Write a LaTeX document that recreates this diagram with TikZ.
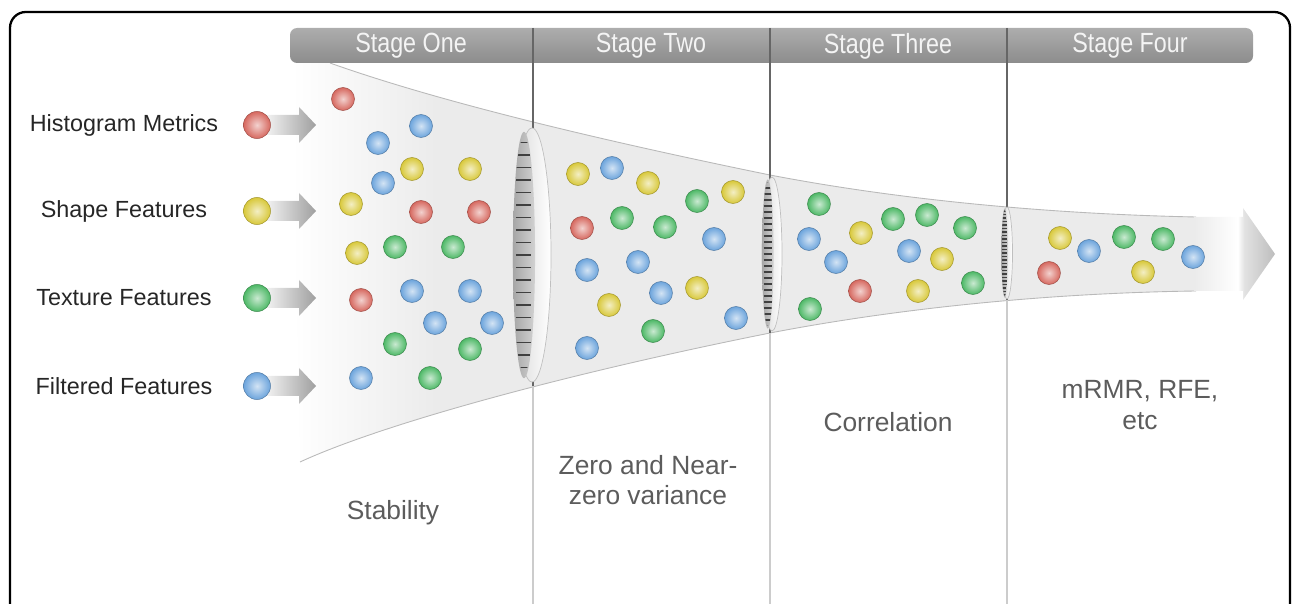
\documentclass[tikz,border=0pt]{standalone}
\usepackage{fontspec}
\setmainfont{Liberation Sans}
\newfontfamily\stagefont[FakeStretch=0.84]{Liberation Sans}
\usetikzlibrary{positioning}

\definecolor{ballred}{HTML}{D6685F}
\definecolor{ballyellow}{HTML}{D8C83A}
\definecolor{ballgreen}{HTML}{4DB866}
\definecolor{ballblue}{HTML}{6CA4DC}
\definecolor{funnelgray}{HTML}{EBEBEB}
\definecolor{tiplight}{HTML}{E2E2E2}
\definecolor{tipdark}{HTML}{BDBDBD}
\definecolor{headtop}{HTML}{ADADAD}
\definecolor{headbot}{HTML}{8C8C8C}
\definecolor{headtext}{HTML}{F4F4F4}
\definecolor{labelgray}{HTML}{5C5C5C}

\pgfdeclarehorizontalshading{funnelfade}{100bp}{color(0bp)=(white); color(25bp)=(white); color(33bp)=(funnelgray); color(100bp)=(funnelgray)}
\pgfdeclarehorizontalshading{tipfade}{100bp}{color(0bp)=(funnelgray); color(25bp)=(funnelgray); color(52bp)=(white); color(56bp)=(tiplight); color(75bp)=(tipdark); color(100bp)=(tipdark)}

\begin{document}
\begin{tikzpicture}[x=0.02cm, y=-0.02cm,
    feat/.style={circle, inner sep=0pt, minimum size=0.46cm, draw=#1!75!black, line width=0.3pt,
                 inner color=#1!30!white, outer color=#1},
    stage/.style={font=\stagefont\fontsize{15.8}{18}\selectfont, text=headtext},
    legend/.style={font=\fontsize{13.3}{16}\selectfont, text=black!85},
    note/.style={font=\fontsize{15}{17.5}\selectfont, text=labelgray, align=center}]
    \useasboundingbox (0,0) rectangle (1292,604);
    \draw[line width=1.3pt, rounded corners=9pt] (10,620) -- (10,12) -- (1290,12) -- (1290,620);

    % funnel
    \shade[shading=funnelfade] (292,63) -- (330,63) .. controls (420,95) and (560,132) .. (770,175)
        .. controls (900,200) and (1050,214) .. (1196,217) -- (1196,291)
        .. controls (1050,293) and (900,308) .. (770,333) .. controls (560,375) and (380,425) .. (300,462) -- cycle;
    \draw[gray!55, line width=0.5pt] (330,63) .. controls (420,95) and (560,132) .. (770,175)
        .. controls (900,200) and (1050,214) .. (1196,217);
    \draw[gray!55, line width=0.5pt] (300,462) .. controls (380,425) and (560,375) .. (770,333)
        .. controls (900,308) and (1050,293) .. (1196,291);
    \shade[shading=tipfade] (1194,217) -- (1243,217) -- (1243,208) -- (1275,254) -- (1243,300)
        -- (1243,291) -- (1194,291) -- cycle;

    % header
    \shade[top color=headtop, bottom color=headbot, rounded corners=4pt] (290,28) rectangle (1253,63);
    \foreach \x/\lo/\hi [count=\i] in {533/386/604, 770/333/604, 1007/300/604}
    {
        \coordinate (d\i) at (\x,28);
        \draw[gray!40, line width=0.6pt] (\x,\lo) -- (\x,\hi);
        \draw[black!60, line width=0.6pt] (d\i) -- (\x,\lo);
    }
    \node[stage] (h1) at (411,46) {Stage One};
    \node[stage] (h2) at (651,46) {Stage Two};
    \node[stage] (h3) at (888,46) {Stage Three};
    \node[stage] (h4) at (1130,46) {Stage Four};

    % lenses
    \foreach \cx/\cy/\rx/\ry/\dy in {532/255/19/127/12.5, 772/254/10/77/6, 1007/253/5.5/46/3.5}
    {
        \shade[draw=gray!50, line width=0.4pt, left color=gray!30, right color=white]
            (\cx,\cy) ellipse [x radius=\rx, y radius=\ry];
        \shade[left color=gray!70, right color=gray!35] (\cx-0.42*\rx,\cy) ellipse [x radius=0.58*\rx, y radius=0.97*\ry];
        \begin{scope}
            \clip (\cx-0.42*\rx,\cy) ellipse [x radius=0.58*\rx, y radius=0.93*\ry];
            \foreach \k in {-14,...,14}
                \draw[black!75, line width=0.7pt] (\cx-0.85*\rx,\cy+\k*\dy) -- ++(0.8*\rx,0);
        \end{scope}
    }

    % legend
    \foreach \y/\c/\t [count=\i] in {125/ballred/Histogram Metrics, 211/ballyellow/Shape Features,
                                     298/ballgreen/Texture Features, 386/ballblue/Filtered Features}
    {
        \node[legend] (l\i) at (124,\y) {\t};
        \shade[left color=gray!10, right color=gray!75] (266,\y-10) -- (299,\y-10) -- (299,\y-18)
            -- (316,\y) -- (299,\y+18) -- (299,\y+10) -- (266,\y+10) -- cycle;
        \node[feat=\c, minimum size=0.54cm] (k\i) at (257,\y) {};
    }

    % features
    \foreach \x/\y/\c [count=\i] in {
        343/99/ballred, 378/143/ballblue, 421/126/ballblue, 383/183/ballblue, 412/169/ballyellow,
        470/169/ballyellow, 351/204/ballyellow, 421/212/ballred, 479/212/ballred, 357/253/ballyellow,
        395/247/ballgreen, 453/247/ballgreen, 361/300/ballred, 412/291/ballblue, 470/291/ballblue,
        435/323/ballblue, 492/323/ballblue, 395/344/ballgreen, 470/349/ballgreen, 361/378/ballblue,
        430/378/ballgreen,
        578/174/ballyellow, 612/168/ballblue, 648/183/ballyellow, 733/192/ballyellow, 697/201/ballgreen,
        582/228/ballred, 622/218/ballgreen, 665/227/ballgreen, 714/239/ballblue, 587/270/ballblue,
        638/262/ballblue, 609/305/ballyellow, 661/293/ballblue, 697/288/ballyellow, 736/318/ballblue,
        653/331/ballgreen, 587/348/ballblue,
        819/204/ballgreen, 809/239/ballblue, 861/233/ballyellow, 836/262/ballblue, 893/219/ballgreen,
        927/215/ballgreen, 965/228/ballgreen, 909/251/ballblue, 942/259/ballyellow, 860/291/ballred,
        918/291/ballyellow, 973/283/ballgreen, 810/309/ballgreen,
        1060/238/ballyellow, 1049/273/ballred, 1089/251/ballblue, 1124/237/ballgreen,
        1163/239/ballgreen, 1143/272/ballyellow, 1193/257/ballblue}
    {
        \node[feat=\c] (b\i) at (\x,\y) {};
    }

    % stage notes
    \node[note] (s1) at (393,513) {Stability};
    \node[note] (s2) at (648,480) {Zero and Near-\\zero variance};
    \node[note] (s3) at (888,422) {Correlation};
    \node[note] (s4) at (1140,405) {mRMR, RFE,\\etc};
\end{tikzpicture}
\end{document}
